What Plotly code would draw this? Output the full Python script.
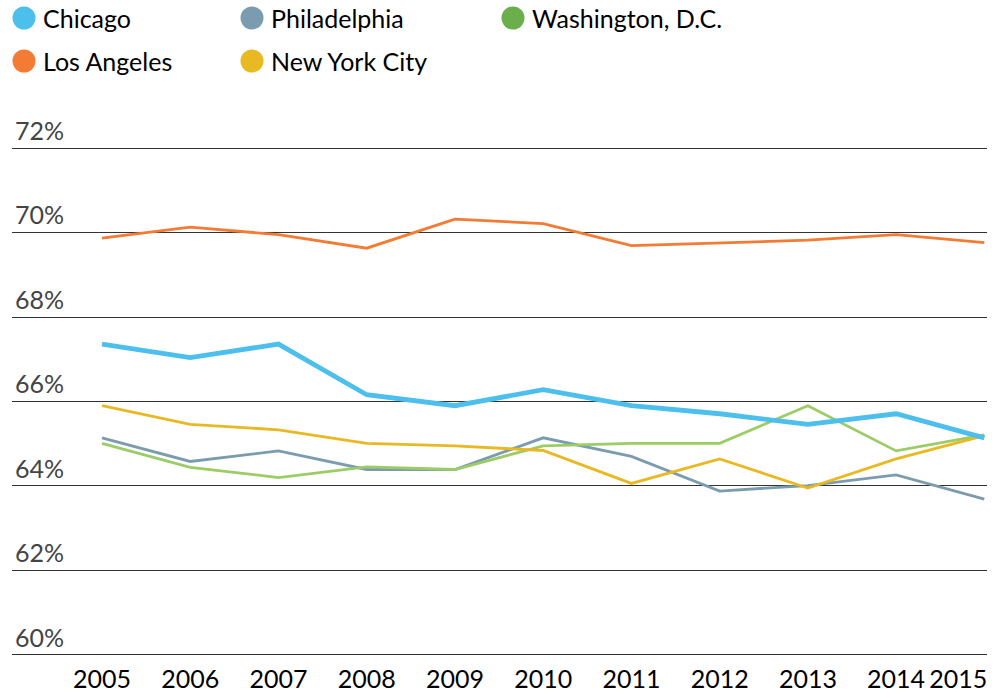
import plotly.graph_objects as go

years = list(range(2005, 2016))

chicago = [67.36, 67.04, 67.36, 66.16, 65.90, 66.28, 65.90, 65.71, 65.46, 65.71, 65.14]
los_angeles = [69.87, 70.13, 69.95, 69.63, 70.32, 70.21, 69.69, 69.75, 69.82, 69.95, 69.76]
philadelphia = [65.14, 64.58, 64.83, 64.39, 64.39, 65.14, 64.70, 63.88, 64.01, 64.26, 63.69]
new_york = [65.90, 65.46, 65.33, 65.01, 64.95, 64.84, 64.06, 64.64, 63.95, 64.64, 65.19]
washington = [65.01, 64.44, 64.20, 64.45, 64.39, 64.95, 65.01, 65.01, 65.90, 64.83, 65.21]

y_ticks = [60, 62, 64, 66, 68, 70, 72]

FONT = 'Lato'
SIZE = 25
TEXT = '#000'
X_RANGE = [2003.98, 2015.03]

# name, values, line colour, legend colour, line width, x axis
series = [
    ('Philadelphia', philadelphia, '#7b9cae', '#7b9cae', 2.8, 'x'),
    ('Washington, D.C.', washington, '#9ccc65', '#6aaf4b', 2.8, 'x'),
    ('New York City', new_york, '#e9b923', '#e9b923', 2.8, 'x'),
    ('Los Angeles', los_angeles, '#f37b34', '#f37b34', 2.8, 'x'),
    ('Chicago', chicago, '#4dbfec', '#4dbfec', 4.8, 'x2'),
]

fig = go.Figure()
for name, vals, col, _, w, xa in series:
    fig.add_trace(go.Scatter(x=years, y=vals, name=name, mode='lines', xaxis=xa,
                             line=dict(color=col, width=w), showlegend=False))

# legend drawn by hand: big dots + labels, in the order of the reference
legend_order = ['Chicago', 'Philadelphia', 'Washington, D.C.', 'Los Angeles', 'New York City']
col_x = [12, 240, 501]
row_y = [128, 85]
colours = {s[0]: s[3] for s in series}
for i, name in enumerate(legend_order):
    dx = col_x[i % 3]
    dy = row_y[i // 3]
    fig.add_shape(type='circle', xref='paper', yref='paper', xsizemode='pixel', ysizemode='pixel',
                  xanchor=0, yanchor=1, x0=dx - 11.5, x1=dx + 11.5, y0=dy - 11.5, y1=dy + 11.5,
                  fillcolor=colours[name], line_width=0)
    fig.add_annotation(text=name, xref='paper', yref='paper', x=0, y=1, xshift=dx + 17, yshift=dy,
                       xanchor='left', yanchor='middle', showarrow=False,
                       font=dict(family=FONT, size=SIZE, color=TEXT))

common_x = dict(range=X_RANGE, tickangle=0, ticklabelstandoff=5, automargin=False,
                showgrid=False, zeroline=False, showline=False, ticks='')

fig.update_layout(
    width=997, height=698,
    margin=dict(l=12, r=10, t=145.6, b=40.9),
    paper_bgcolor='white', plot_bgcolor='white',
    font=dict(family=FONT, size=SIZE, color=TEXT),
    xaxis=dict(tickvals=years[:-1], ticktext=[str(y) for y in years[:-1]], **common_x),
    # last year label sits left of its tick so it stays inside the page
    xaxis2=dict(overlaying='x', anchor='y', side='bottom',
                tickvals=years[-1:], ticktext=[str(years[-1])],
                ticklabelposition='outside left', ticklabelshift=3, **common_x),
    yaxis=dict(range=[59.95, 72.05], tickvals=y_ticks, ticktext=[f'{v}%' for v in y_ticks],
               ticklabelposition='inside', ticklabelshift=-17, ticklabeloverflow='allow',
               automargin=False,
               showgrid=True, gridcolor='#333', gridwidth=1, zeroline=False, showline=False, ticks=''),
)

fig.write_html('out.html', config={'displayModeBar': False},
               post_script="document.body.style.margin='0px';")
